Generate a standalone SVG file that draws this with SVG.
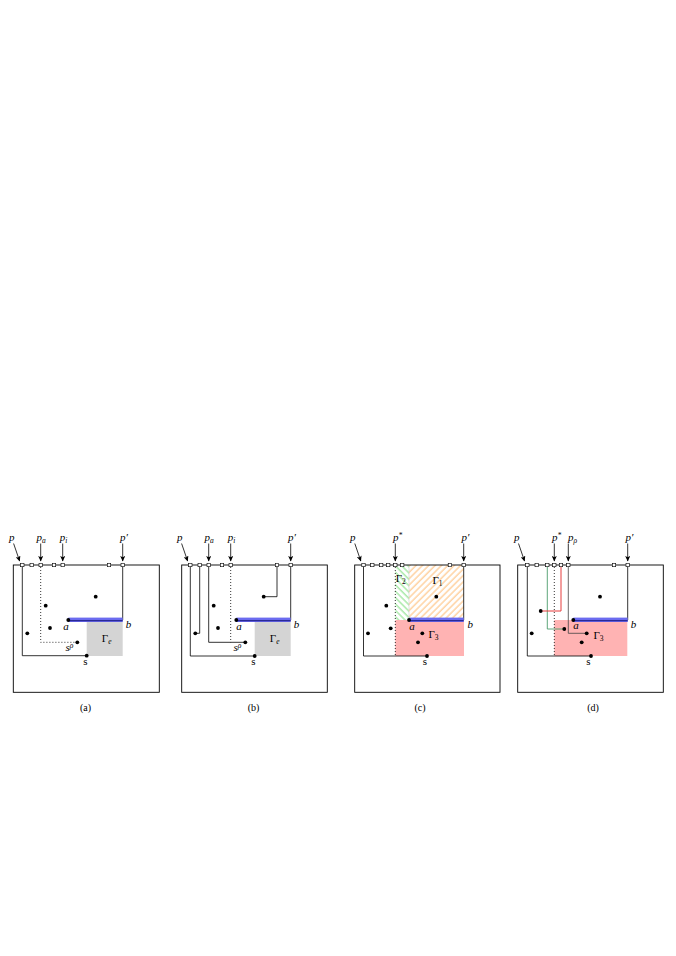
<svg xmlns="http://www.w3.org/2000/svg" width="676" height="956" viewBox="0 0 676 956">
<defs>
<marker id="ah" markerUnits="userSpaceOnUse" markerWidth="6" markerHeight="5" refX="5" refY="2.5" orient="auto"><path d="M0,0 L5.5,2.5 L0,5 L1.2,2.5 z" fill="#000"/></marker>
<pattern id="hatchO" patternUnits="userSpaceOnUse" width="4.5" height="4.5" patternTransform="rotate(45)"><line x1="1" y1="0" x2="1" y2="4.5" stroke="#ffcc94" stroke-width="1.3"/></pattern>
<pattern id="hatchG" patternUnits="userSpaceOnUse" width="4.5" height="4.5" patternTransform="rotate(-45)"><line x1="1" y1="0" x2="1" y2="4.5" stroke="#9de69d" stroke-width="1.3"/></pattern>
</defs>
<style>
.frame{fill:none;stroke:#000;stroke-width:0.9}
.ln{fill:none;stroke:#000;stroke-width:0.8}
.dot{fill:none;stroke:#000;stroke-width:0.8;stroke-dasharray:1 2}
.arr{fill:none;stroke:#000;stroke-width:0.8;marker-end:url(#ah)}
.sq{fill:#fff;stroke:#000;stroke-width:0.6}
.pt{fill:#000}
.band{fill:#6b6bef}
.bandl{stroke:#2a2a96;stroke-width:1.3}
.gray{fill:#d4d4d4}
.red{fill:#ffb3b3}
text{font-family:"Liberation Serif",serif;font-size:11px;fill:#000}
.it{font-style:italic}
.cap{font-size:10px}
</style>
<rect width="676" height="956" fill="#fff"/>

<!-- Panel (a) -->
<g id="panel-a">
<rect class="gray" x="86.7" y="621.5" width="36" height="34.5"/>
<rect class="frame" x="13.3" y="565" width="146" height="127.3"/>
<g id="a-connectors">
<path class="ln" d="M22.3,565 V655.7 H86.7"/>
<path class="dot" d="M40.7,567 V642.3 H77"/>
<path class="ln" d="M122.7,565 V620"/>
<rect class="band" x="68.3" y="617.6" width="54.4" height="4.4"/>
<line class="bandl" x1="68.3" y1="620.6" x2="122.7" y2="620.6"/>
<path class="arr" d="M13.6,543.5 L19.6,561"/>
<path class="arr" d="M40.7,543.5 V561"/>
<path class="arr" d="M62.7,543.5 V561"/>
<path class="arr" d="M122.7,543.5 V561"/>
</g>
<g id="a-squares">
<rect class="sq" x="20.6" y="563.3" width="3.4" height="3.4"/>
<rect class="sq" x="30" y="563.3" width="3.4" height="3.4"/>
<rect class="sq" x="39" y="563.3" width="3.4" height="3.4"/>
<rect class="sq" x="52.3" y="563.3" width="3.4" height="3.4"/>
<rect class="sq" x="61" y="563.3" width="3.4" height="3.4"/>
<rect class="sq" x="107.3" y="563.3" width="3.4" height="3.4"/>
<rect class="sq" x="121" y="563.3" width="3.4" height="3.4"/>
</g>
<g id="a-points">
<circle class="pt" cx="95.7" cy="596.7" r="1.9"/>
<circle class="pt" cx="45.7" cy="605.7" r="1.9"/>
<circle class="pt" cx="50" cy="628" r="1.9"/>
<circle class="pt" cx="27.3" cy="633.3" r="1.9"/>
<circle class="pt" cx="77.3" cy="642.3" r="1.9"/>
<circle class="pt" cx="68.3" cy="620" r="1.9"/>
<circle class="pt" cx="86.7" cy="655.7" r="1.9"/>
</g>
<g id="a-labels">
<text class="it" x="11.7" y="541" text-anchor="middle">p</text>
<text class="it" x="41" y="541" text-anchor="middle">p<tspan font-size="7.5" dy="1.8">a</tspan></text>
<text class="it" x="63.5" y="541" text-anchor="middle">p<tspan font-size="7.5" dy="1.8">i</tspan></text>
<text class="it" x="124" y="541" text-anchor="middle">p′</text>
<text class="it" x="66" y="630" text-anchor="middle">a</text>
<text class="it" x="128.5" y="628" text-anchor="middle">b</text>
<text class="it" x="69.5" y="651" text-anchor="middle">s<tspan font-size="7.5" dy="-3.5">ρ</tspan></text>
<text x="85.3" y="665" text-anchor="middle">s</text>
<text x="106.7" y="642" text-anchor="middle">Γ<tspan class="it" font-size="7.5" dy="1.8">e</tspan></text>
<text class="cap" x="85.5" y="711" text-anchor="middle">(a)</text>
</g>
</g>

<!-- Panel (b) -->
<g id="panel-b">
<rect class="gray" x="254.7" y="621.5" width="36" height="34.5"/>
<rect class="frame" x="181.7" y="565" width="145.6" height="127.3"/>
<g id="b-connectors">
<path class="ln" d="M190.3,565 V656 H254.7"/>
<path class="ln" d="M199.7,565 V633.3 H195.3"/>
<path class="ln" d="M208.7,565 V642.3 H245.3"/>
<path class="dot" d="M230.7,567 V642.3"/>
<path class="ln" d="M277,565 V596.7 H263.7"/>
<path class="ln" d="M290.7,565 V620"/>
<rect class="band" x="236.3" y="617.6" width="54.4" height="4.4"/>
<line class="bandl" x1="236.3" y1="620.6" x2="290.7" y2="620.6"/>
<path class="arr" d="M181.6,543.5 L187.6,561"/>
<path class="arr" d="M208.7,543.5 V561"/>
<path class="arr" d="M230.7,543.5 V561"/>
<path class="arr" d="M290.7,543.5 V561"/>
</g>
<g id="b-squares">
<rect class="sq" x="188.6" y="563.3" width="3.4" height="3.4"/>
<rect class="sq" x="198" y="563.3" width="3.4" height="3.4"/>
<rect class="sq" x="207" y="563.3" width="3.4" height="3.4"/>
<rect class="sq" x="220.3" y="563.3" width="3.4" height="3.4"/>
<rect class="sq" x="229" y="563.3" width="3.4" height="3.4"/>
<rect class="sq" x="275.3" y="563.3" width="3.4" height="3.4"/>
<rect class="sq" x="289" y="563.3" width="3.4" height="3.4"/>
</g>
<g id="b-points">
<circle class="pt" cx="263.7" cy="596.7" r="1.9"/>
<circle class="pt" cx="213.7" cy="605.7" r="1.9"/>
<circle class="pt" cx="218" cy="628" r="1.9"/>
<circle class="pt" cx="195.3" cy="633.3" r="1.9"/>
<circle class="pt" cx="245.3" cy="642.3" r="1.9"/>
<circle class="pt" cx="236.3" cy="620" r="1.9"/>
<circle class="pt" cx="254.7" cy="656" r="1.9"/>
</g>
<g id="b-labels">
<text class="it" x="179.7" y="541" text-anchor="middle">p</text>
<text class="it" x="209" y="541" text-anchor="middle">p<tspan font-size="7.5" dy="1.8">a</tspan></text>
<text class="it" x="231.5" y="541" text-anchor="middle">p<tspan font-size="7.5" dy="1.8">i</tspan></text>
<text class="it" x="292" y="541" text-anchor="middle">p′</text>
<text class="it" x="239" y="630" text-anchor="middle">a</text>
<text class="it" x="296.5" y="628" text-anchor="middle">b</text>
<text class="it" x="237.5" y="651" text-anchor="middle">s<tspan font-size="7.5" dy="-3.5">ρ</tspan></text>
<text x="253.3" y="665" text-anchor="middle">s</text>
<text x="274.7" y="642" text-anchor="middle">Γ<tspan class="it" font-size="7.5" dy="1.8">e</tspan></text>
<text class="cap" x="253.5" y="711" text-anchor="middle">(b)</text>
</g>
</g>

<!-- Panel (c) -->
<g id="panel-c">
<rect class="red" x="395.3" y="620" width="68.7" height="36"/>
<rect fill="url(#hatchG)" x="395.3" y="565" width="13.7" height="55"/>
<rect fill="url(#hatchO)" x="409" y="565" width="54.7" height="53"/>
<rect class="frame" x="354.7" y="565" width="145.3" height="127.3"/>
<g id="c-connectors">
<path class="ln" d="M363.5,565 V656 H427"/>
<path class="dot" d="M395.3,567 V656"/>
<line x1="409" y1="566" x2="409" y2="618" stroke="#ccc" stroke-width="0.6"/>
<path class="ln" d="M463.7,565 V620"/>
<rect class="band" x="409" y="617.6" width="54.7" height="4.4"/>
<line class="bandl" x1="409" y1="620.6" x2="463.7" y2="620.6"/>
<path class="arr" d="M354.8,543.5 L360.8,561"/>
<path class="arr" d="M395.3,543.5 V561"/>
<path class="arr" d="M463.7,543.5 V561"/>
</g>
<g id="c-squares">
<rect class="sq" x="361.8" y="563.3" width="3.4" height="3.4"/>
<rect class="sq" x="370.6" y="563.3" width="3.4" height="3.4"/>
<rect class="sq" x="379.5" y="563.3" width="3.4" height="3.4"/>
<rect class="sq" x="386.5" y="563.3" width="3.4" height="3.4"/>
<rect class="sq" x="393.6" y="563.3" width="3.4" height="3.4"/>
<rect class="sq" x="400.5" y="563.3" width="3.4" height="3.4"/>
<rect class="sq" x="448.2" y="563.3" width="3.4" height="3.4"/>
<rect class="sq" x="462" y="563.3" width="3.4" height="3.4"/>
</g>
<g id="c-points">
<circle class="pt" cx="436.3" cy="596.7" r="1.9"/>
<circle class="pt" cx="386.3" cy="605.7" r="1.9"/>
<circle class="pt" cx="390.7" cy="628.3" r="1.9"/>
<circle class="pt" cx="368" cy="633.3" r="1.9"/>
<circle class="pt" cx="422.3" cy="633.3" r="1.9"/>
<circle class="pt" cx="418" cy="642.3" r="1.9"/>
<circle class="pt" cx="409" cy="620" r="1.9"/>
<circle class="pt" cx="427" cy="656" r="1.9"/>
</g>
<g id="c-labels">
<text class="it" x="352.7" y="541" text-anchor="middle">p</text>
<text class="it" x="397.5" y="541" text-anchor="middle">p<tspan font-size="7.5" dy="-3.5">*</tspan></text>
<text class="it" x="465.5" y="541" text-anchor="middle">p′</text>
<text x="400.8" y="582" text-anchor="middle">Γ<tspan font-size="7.5" dy="1.8">2</tspan></text>
<text x="437.5" y="584" text-anchor="middle">Γ<tspan font-size="7.5" dy="1.8">1</tspan></text>
<text x="433.5" y="638" text-anchor="middle">Γ<tspan font-size="7.5" dy="1.8">3</tspan></text>
<text class="it" x="412" y="630" text-anchor="middle">a</text>
<text class="it" x="470.3" y="628" text-anchor="middle">b</text>
<text x="425" y="665" text-anchor="middle">s</text>
<text class="cap" x="420" y="711" text-anchor="middle">(c)</text>
</g>
</g>

<!-- Panel (d) -->
<g id="panel-d">
<rect class="red" x="554.3" y="620" width="73" height="36"/>
<rect class="frame" x="517.7" y="565" width="145.6" height="127.3"/>
<g id="d-connectors">
<path class="ln" d="M527.3,565 V656 H591"/>
<path fill="none" stroke="#4c9c6c" stroke-width="0.9" d="M547.3,565 V629 H564.3"/>
<path class="dot" d="M554.3,567 V656"/>
<path fill="none" stroke="#e63c3c" stroke-width="1" d="M561,565 V611 H540.7"/>
<path fill="none" stroke="#444" stroke-width="0.8" d="M568.3,565 V633.3 H586.7"/>
<path class="ln" d="M627.7,565 V620"/>
<rect class="band" x="573.3" y="617.6" width="54.4" height="4.4"/>
<line class="bandl" x1="573.3" y1="620.6" x2="627.7" y2="620.6"/>
<path class="arr" d="M518.5,543.5 L524.5,561"/>
<path class="arr" d="M554.3,543.5 V561"/>
<path class="arr" d="M568.3,543.5 V561"/>
<path class="arr" d="M627.7,543.5 V561"/>
</g>
<g id="d-squares">
<rect class="sq" x="525.6" y="563.3" width="3.4" height="3.4"/>
<rect class="sq" x="535" y="563.3" width="3.4" height="3.4"/>
<rect class="sq" x="545.6" y="563.3" width="3.4" height="3.4"/>
<rect class="sq" x="552.6" y="563.3" width="3.4" height="3.4"/>
<rect class="sq" x="559.3" y="563.3" width="3.4" height="3.4"/>
<rect class="sq" x="566.6" y="563.3" width="3.4" height="3.4"/>
<rect class="sq" x="612.3" y="563.3" width="3.4" height="3.4"/>
<rect class="sq" x="626" y="563.3" width="3.4" height="3.4"/>
</g>
<g id="d-points">
<circle class="pt" cx="600" cy="596.7" r="1.9"/>
<circle class="pt" cx="540.7" cy="611" r="1.9"/>
<circle class="pt" cx="531.7" cy="633.3" r="1.9"/>
<circle class="pt" cx="564.3" cy="629" r="1.9"/>
<circle class="pt" cx="573.3" cy="620" r="1.9"/>
<circle class="pt" cx="586.7" cy="633.3" r="1.9"/>
<circle class="pt" cx="581.7" cy="642.3" r="1.9"/>
<circle class="pt" cx="591" cy="656" r="1.9"/>
</g>
<g id="d-labels">
<text class="it" x="516.7" y="541" text-anchor="middle">p</text>
<text class="it" x="556.5" y="541" text-anchor="middle">p<tspan font-size="7.5" dy="-3.5">*</tspan></text>
<text class="it" x="572.5" y="541" text-anchor="middle">p<tspan font-size="7.5" dy="1.8">ρ</tspan></text>
<text class="it" x="629.5" y="541" text-anchor="middle">p′</text>
<text x="598.5" y="639" text-anchor="middle">Γ<tspan font-size="7.5" dy="1.8">3</tspan></text>
<text class="it" x="576" y="629" text-anchor="middle">a</text>
<text class="it" x="633.5" y="628" text-anchor="middle">b</text>
<text x="588.5" y="665" text-anchor="middle">s</text>
<text class="cap" x="593" y="711" text-anchor="middle">(d)</text>
</g>
</g>
</svg>
